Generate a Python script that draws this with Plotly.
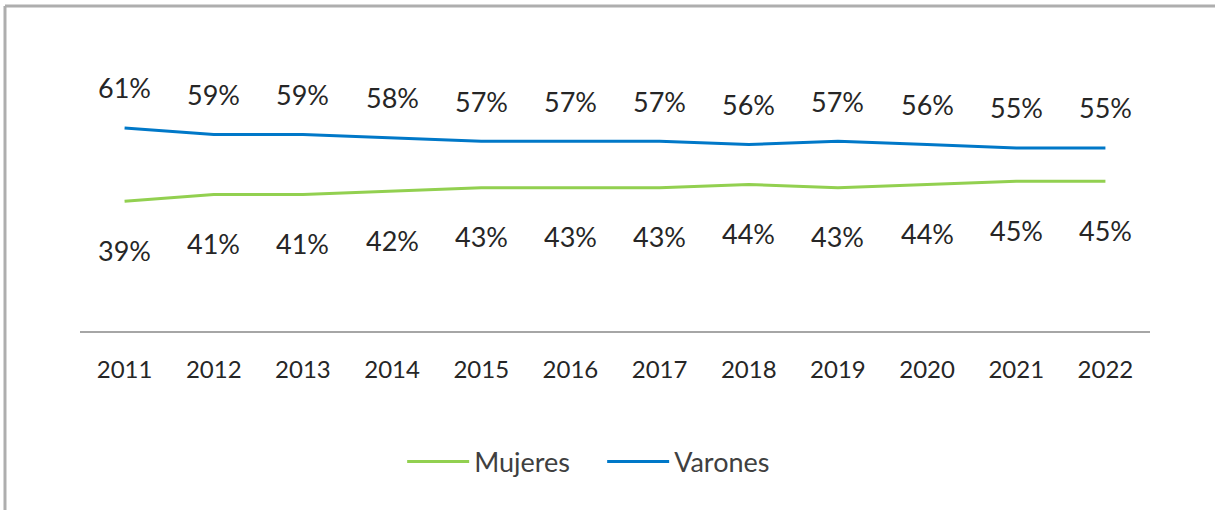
import plotly.graph_objects as go

years = ["2011", "2012", "2013", "2014", "2015", "2016", "2017", "2018", "2019", "2020", "2021", "2022"]
mujeres = [0.39, 0.41, 0.41, 0.42, 0.43, 0.43, 0.43, 0.44, 0.43, 0.44, 0.45, 0.45]
varones = [0.61, 0.59, 0.59, 0.58, 0.57, 0.57, 0.57, 0.56, 0.57, 0.56, 0.55, 0.55]

FONT = "Lato"
GREEN = "#92D050"
BLUE = "#0078C8"

fig = go.Figure()
fig.add_trace(go.Scatter(x=years, y=mujeres, name="Mujeres", mode="lines",
                         line=dict(color=GREEN, width=3), cliponaxis=False))
fig.add_trace(go.Scatter(x=years, y=varones, name="Varones", mode="lines",
                         line=dict(color=BLUE, width=3), cliponaxis=False))

annotations = []
# category axis: annotation positions use category index
for i, v in enumerate(varones):
    annotations.append(dict(x=i, y=v, xref="x", yref="y", text=f"{round(v*100)}%",
                            showarrow=False, yshift=40,
                            font=dict(family=FONT, size=27, color="#262626")))
for i, v in enumerate(mujeres):
    annotations.append(dict(x=i, y=v, xref="x", yref="y", text=f"{round(v*100)}%",
                            showarrow=False, yshift=-49,
                            font=dict(family=FONT, size=27, color="#262626")))

fig.update_layout(
    width=1215, height=510,
    margin=dict(l=80, r=65, t=98, b=179),
    paper_bgcolor="white", plot_bgcolor="white",
    showlegend=True,
    legend=dict(orientation="h", x=0.488, xanchor="center", y=-0.562, yanchor="middle",
                font=dict(family=FONT, size=27, color="#404040"), itemwidth=62,
                entrywidth=123, entrywidthmode="pixels"),
    xaxis=dict(type="category", range=[-0.5, 11.5], showgrid=False, zeroline=False,
               showline=True, linecolor="#A6A6A6", linewidth=2, ticks="",
               tickfont=dict(family=FONT, size=24, color="#262626"), ticklabelstandoff=16),
    yaxis=dict(range=[0, 0.7], showticklabels=False, showline=False, showgrid=False,
               zeroline=False, ticks=""),
    annotations=annotations,
    shapes=[
        dict(type="line", xref="paper", yref="paper", x0=-0.0701, x1=1.2, y0=1.3948, y1=1.3948,
             line=dict(color="#AEAEAE", width=3)),
        dict(type="line", xref="paper", yref="paper", x0=-0.0701, x1=-0.0701, y0=1.3948, y1=-0.9,
             line=dict(color="#AEAEAE", width=3)),
    ],
)

fig.write_html("out.html", config={"displayModeBar": False},
               post_script="document.body.style.margin='0';")
